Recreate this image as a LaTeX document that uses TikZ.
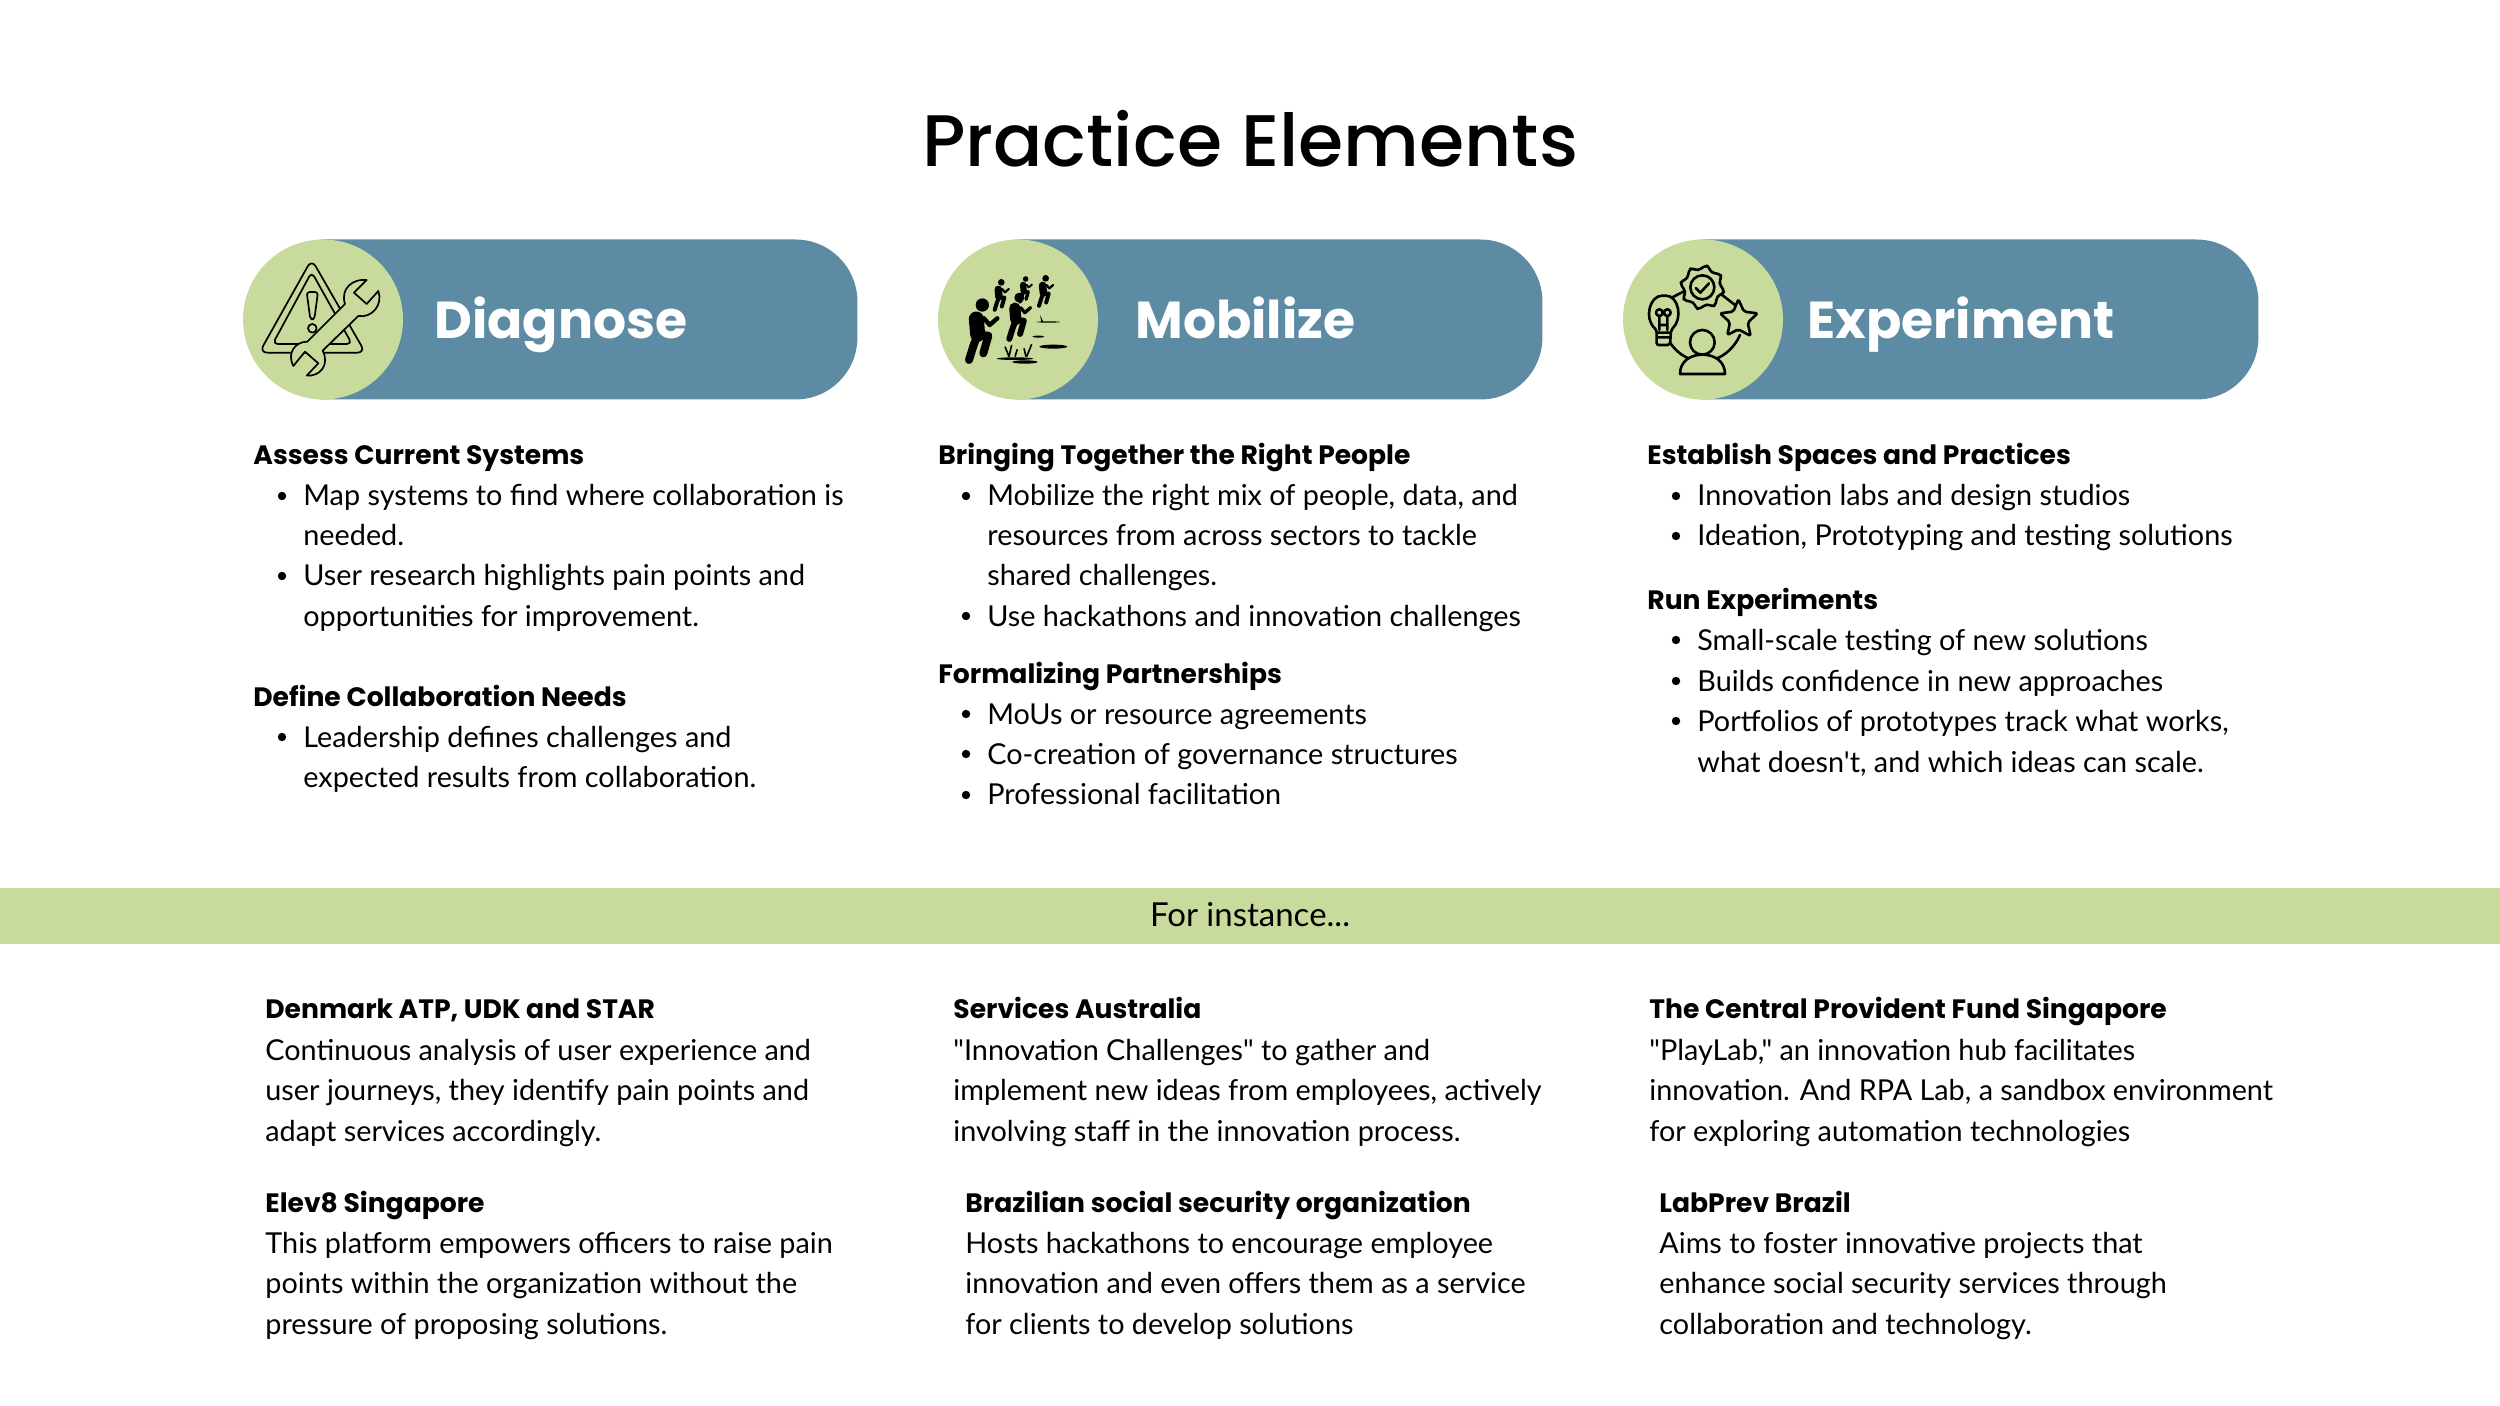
\documentclass[tikz,border=0pt]{standalone}
\usepackage{fontspec}
\newfontfamily\bodyfont{Lato}
\newfontfamily\titlefont{Poppins Medium}
\newfontfamily\headfont{Poppins}[BoldFont=Poppins Bold]
\usetikzlibrary{positioning}
\definecolor{pillblue}{HTML}{5D8BA4}
\definecolor{leaf}{HTML}{C9DB9C}
\tikzset{
  pill/.style={fill=pillblue,rounded corners=31pt,minimum height=80pt,inner sep=0pt,anchor=west},
  disc/.style={circle,fill=leaf,minimum size=80pt,inner sep=0pt},
  pilltxt/.style={anchor=base west,inner sep=0pt,text=white,font=\headfont\bfseries\fontsize{26}{30}\selectfont},
  head/.style={anchor=base west,inner sep=0pt,font=\headfont\bfseries\fontsize{13.3}{16}\selectfont},
  txt/.style={anchor=base west,inner sep=0pt,font=\bodyfont\fontsize{14.4}{18}\selectfont},
  dot/.style={circle,fill=black,minimum size=4.2pt,inner sep=0pt},
  icon/.style={line width=0.85pt,line join=round,line cap=round,draw=black,fill=leaf},
  iconb/.style={icon,line width=1.3pt}
}
% one runner, head at the origin
\newcommand{\runner}[3]{
  \begin{scope}[shift={(#1)},scale=#2]
    \fill (0,0) circle (20);
    \draw[line width=#3*7.5pt,line cap=round] (-18,42) -- (-14,88);
    \draw[line width=#3*4pt,line cap=round,line join=round] (-14,90) -- (18,92) -- (3,145);
    \draw[line width=#3*4pt,line cap=round,line join=round] (-14,90) -- (-26,120) -- (-40,165);
    \draw[line width=#3*2.2pt,line cap=round,line join=round] (5,40) -- (22,60) -- (45,40);
  \end{scope}
}
\begin{document}
\begin{tikzpicture}[x=0.5pt,y=-0.5pt]
  \useasboundingbox (0,0) rectangle (2500,1406);
  % Title
  \node[anchor=base,inner sep=0pt,font=\titlefont\fontsize{36.5}{44}\selectfont] (title) at (1250,167) {Practice Elements};
  % Pills and their discs
  \foreach \nm/\x/\w/\tx/\lbl in {diag/243/614/434/Diagnose,mob/938/604/1135/Mobilize,expt/1623/635/1807/Experiment} {
    \node[pill,minimum width=\w*0.5pt-10pt] (\nm pill) at (\x+20,319.5) {};
    \node[disc] (\nm disc) at (\x+80,319.5) {};
    \node[pilltxt] (\nm lbl) at (\tx,339) {\lbl};
  }
  % Band
  \fill[leaf] (0,888) rectangle (2500,944);
  \node[anchor=base,inner sep=0pt,font=\bodyfont\fontsize{16.5}{18}\selectfont] (band) at (1250,926) {For instance...};
  % Diagnose list
  \foreach \y/\t [count=\n] in {465/Assess Current Systems,706/Define Collaboration Needs} {
    \node[head] (dh\n) at (253,\y) {\t};
  }
  \foreach \y/\t [count=\n] in {506/Map systems to find where collaboration is,546/needed.,586/User research highlights pain points and,626/opportunities for improvement.,747/Leadership defines challenges and,787/expected results from collaboration.} {
    \node[txt] (dt\n) at (303,\y) {\t};
  }
  \foreach \y [count=\n] in {496,576,737} {
    \node[dot] (dd\n) at (282,\y) {};
  }
  % Mobilize list
  \foreach \y/\t [count=\n] in {465/Bringing Together the Right People,683/Formalizing Partnerships} {
    \node[head] (mh\n) at (938,\y) {\t};
  }
  \foreach \y/\t [count=\n] in {506/{Mobilize the right mix of people, data, and},546/resources from across sectors to tackle,586/shared challenges.,626/Use hackathons and innovation challenges,724/MoUs or resource agreements,764/Co-creation of governance structures,804/Professional facilitation} {
    \node[txt] (mt\n) at (987,\y) {\t};
  }
  \foreach \y [count=\n] in {496,616,714,754,795} {
    \node[dot] (md\n) at (966,\y) {};
  }
  % Experiment list
  \foreach \y/\t [count=\n] in {465/Establish Spaces and Practices,610/Run Experiments} {
    \node[head] (eh\n) at (1647,\y) {\t};
  }
  \foreach \y/\t [count=\n] in {506/Innovation labs and design studios,546/{Ideation, Prototyping and testing solutions},650/Small-scale testing of new solutions,691/Builds confidence in new approaches,731/{Portfolios of prototypes track what works,},772/{what doesn't, and which ideas can scale.}} {
    \node[txt] (et\n) at (1697,\y) {\t};
  }
  \foreach \y [count=\n] in {496,536,640,681,721} {
    \node[dot] (ed\n) at (1676,\y) {};
  }
  % Examples, bold first line then text
  \foreach \x/\y/\t [count=\n] in {265/1018/{Denmark ATP, UDK and STAR},265/1212/Elev8 Singapore,953/1018/Services Australia,965/1212/Brazilian social security organization,1649/1018/The Central Provident Fund Singapore,1659/1212/LabPrev Brazil} {
    \node[head] (xh\n) at (\x,\y) {\t};
  }
  \foreach \x/\y/\t [count=\n] in {
    265/1060/Continuous analysis of user experience and,265/1100/{user journeys, they identify pain points and},265/1141/adapt services accordingly.,
    265/1253/This platform empowers officers to raise pain,265/1293/points within the organization without the,265/1334/pressure of proposing solutions.,
    953/1060/"Innovation Challenges" to gather and,953/1100/{implement new ideas from employees, actively},953/1141/involving staff in the innovation process.,
    965/1253/Hosts hackathons to encourage employee,965/1293/innovation and even offers them as a service,965/1334/for clients to develop solutions,
    1649/1060/{"PlayLab," an innovation hub facilitates},1649/1100/{innovation. And RPA Lab, a sandbox environment},1649/1141/for exploring automation technologies,
    1659/1253/Aims to foster innovative projects that,1659/1293/enhance social security services through,1659/1334/collaboration and technology.} {
    \node[txt] (xt\n) at (\x,\y) {\t};
  }
  % Warning triangle and wrench
  \begin{scope}[shift={(230,230)},scale=0.3333]
    \draw[icon,fill=none,rounded corners=4pt] (245,88) -- (88,368) -- (406,368) -- cycle;
    \draw[icon,fill=none,rounded corners=2.5pt] (245,126) -- (128,342) -- (366,342) -- cycle;
    \draw[icon,fill=none,rounded corners=1.5pt] (230,186) -- (264,186) -- (253,268) -- (241,268) -- cycle;
    \draw[icon,fill=none] (247,295) circle (13);
    \draw[icon] (410,150) .. controls (370,145) and (330,175) .. (345,222) -- (232,335)
      .. controls (195,335) and (170,370) .. (190,408) -- (225,365) -- (265,400) -- (230,437)
      .. controls (270,440) and (300,405) .. (278,362) -- (385,258)
      .. controls (425,265) and (460,225) .. (445,183) -- (410,222) -- (372,188) -- cycle;
  \end{scope}
  % Runners and ground
  \begin{scope}[shift={(930,230)},scale=0.3333]
    \runner{157,225}{1}{1}
    \runner{268,203}{0.75}{0.75}
    \runner{214,157}{0.5}{0.5}
    \runner{287,147}{0.42}{0.42}
    \runner{347,145}{0.5}{0.5}
    \fill (370,350) ellipse (42 and 6);
    \fill (325,320) ellipse (18 and 3);
    \fill (285,396) ellipse (38 and 5);
    \fill (255,386) ellipse (55 and 4);
    \fill (355,276) ellipse (35 and 2);
    \fill (334,276) -- (330,255) -- (340,276) -- cycle;
    \draw[line width=0.8pt] (237,380) -- (225,350) (237,380) -- (245,345) (255,380) -- (262,358) (288,380) -- (282,355) (290,380) -- (305,343);
  \end{scope}
  % Gear, bulb, star, person on one ring
  \begin{scope}[shift={(1615,230)},scale=0.3333]
    \draw[iconb,fill=none] (205,185) -- (172,202) (315,190) -- (360,225);
    \draw[iconb,fill=none] (165,338) .. controls (180,360) and (200,378) .. (228,388);
    \draw[iconb,fill=none] (298,388) .. controls (330,378) and (360,350) .. (375,315);
    \begin{scope}[shift={(262,172)}]
      \draw[iconb,rounded corners=1pt] (0:58) \foreach \a in {0,45,...,315} { -- (\a+9:66) -- (\a+16:66) -- (\a+26:54) -- (\a+36:54) } -- cycle;
      \draw[iconb,fill=none] (0,0) circle (36);
      \draw[iconb,fill=none] (-20,2) -- (-6,16) -- (20,-12);
    \end{scope}
    \draw[iconb,rounded corners=1pt] (125,345) -- (165,345) -- (168,300) .. controls (205,265) and (190,197) .. (147,197)
      .. controls (105,197) and (85,265) .. (125,300) -- cycle;
    \draw[iconb,fill=none] (125,308) -- (165,308) (128,322) -- (163,322) (133,258) -- (133,300) (157,258) -- (157,300) (133,248) circle (10) (157,248) circle (10) (133,285) -- (157,285);
    \draw[iconb,rounded corners=1pt] (370,208) -- (387,245) -- (428,250) -- (398,278) -- (407,318) -- (370,298) -- (337,315) -- (345,277) -- (315,250) -- (355,245) -- cycle;
    \draw[iconb,fill=none] (262,337) circle (37);
    \draw[iconb] (195,432) .. controls (195,395) and (225,374) .. (262,374) .. controls (300,374) and (330,395) .. (330,432) -- cycle;
  \end{scope}
\end{tikzpicture}
\end{document}
